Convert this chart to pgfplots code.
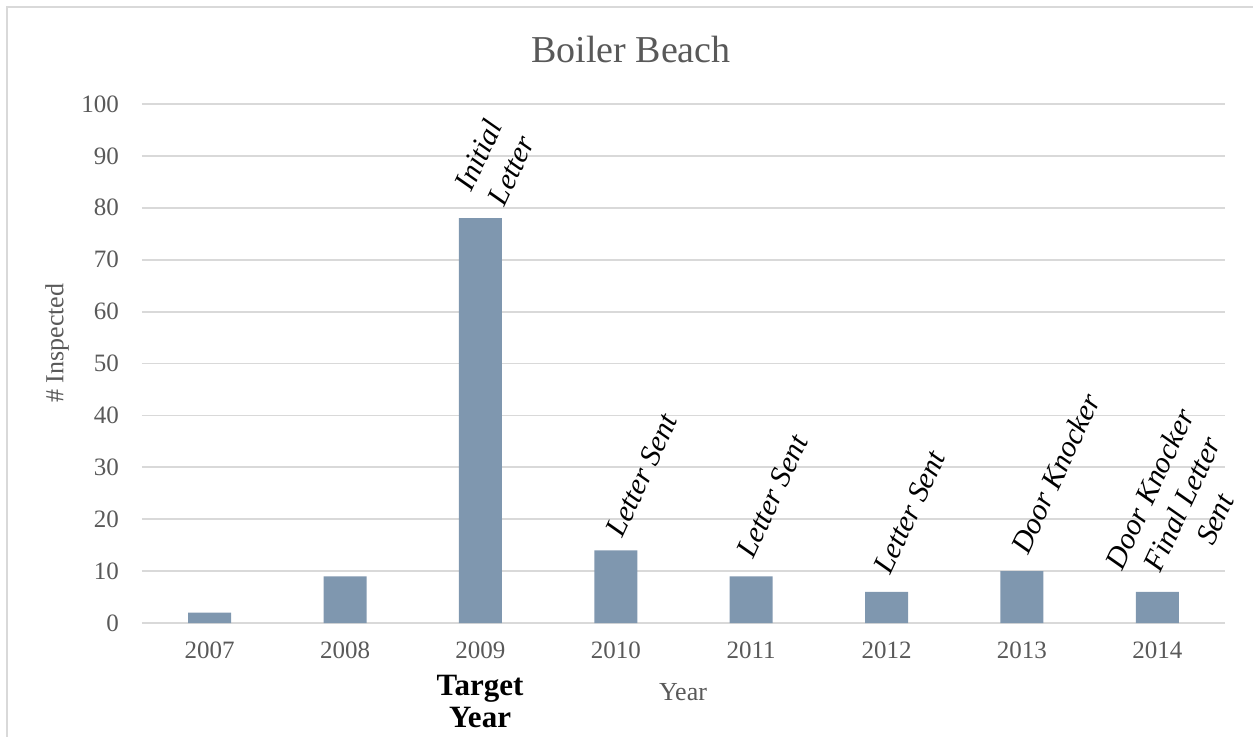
\documentclass[border=0pt]{standalone}
\usepackage{fontspec}
\setmainfont{Liberation Serif}
\usepackage{pgfplots}
\pgfplotsset{compat=1.18}
\definecolor{textgray}{HTML}{595959}
\definecolor{gridgray}{HTML}{D9D9D9}
\definecolor{barblue}{HTML}{7F97AF}
\tikzset{lab/.style={inner sep=0pt, anchor=base west, align=center, text=black,
    font=\itshape\fontsize{15}{18}\selectfont}}
\begin{document}
\begin{tikzpicture}
\path[use as bounding box] (-71pt,-56.5pt) rectangle (555.5pt,311.5pt);
\draw[gridgray, line width=1pt] (-67.5pt,-60pt) -- (-67.5pt,308pt) -- (560pt,308pt);
\begin{axis}[
  scale only axis, width=541.5pt, height=259.5pt,
  ymin=0, ymax=100, ytick={0,10,...,100},
  xmin=-0.5, xmax=7.5, xtick={0,...,7},
  xticklabels={2007,2008,2009,2010,2011,2012,2013,2014},
  ybar, bar width=21.5pt,
  axis line style={draw=none},
  major tick length=0pt,
  ymajorgrids, grid style={color=gridgray, line width=0.9pt},
  tick label style={font=\fontsize{12.5}{15}\selectfont, text=textgray},
  yticklabel style={xshift=-8pt},
  xticklabel style={yshift=-6pt},
  /pgf/number format/assume math mode=true,
  clip=false,
]
\addplot[fill=barblue, draw=none] coordinates {
  (0,2) (1,9) (2,78) (3,14) (4,9) (5,6) (6,10) (7,6)};
\node[shift={(12pt,5pt)}, rotate=65, lab] at (axis cs:2,78) {Initial\\Letter};
\node[shift={(3.5pt,5.5pt)}, rotate=65, lab] at (axis cs:3,14) {Letter Sent};
\node[shift={(1pt,8pt)}, rotate=65, lab] at (axis cs:4,9) {Letter Sent};
\node[shift={(2pt,8pt)}, rotate=65, lab] at (axis cs:5,6) {Letter Sent};
\node[shift={(3pt,7.5pt)}, rotate=65, lab] at (axis cs:6,10) {Door Knocker};
\node[shift={(15pt,-5pt)}, rotate=65, lab] at (axis cs:7,6) {Door Knocker\\Final Letter\\Sent};
\end{axis}
\node[anchor=base, font=\fontsize{19}{22}\selectfont, text=textgray] at (244.5pt,280.5pt) {Boiler Beach};
\node[rotate=90, font=\fontsize{13}{15}\selectfont, text=textgray] at (-42.5pt,140pt) {\# Inspected};
\node[anchor=base, font=\fontsize{13}{15}\selectfont, text=textgray] at (270.5pt,-38.5pt) {Year};
\node[anchor=base, font=\bfseries\fontsize{15.5}{17}\selectfont] at (169pt,-36pt) {Target};
\node[anchor=base, font=\bfseries\fontsize{15.5}{17}\selectfont] at (169pt,-52pt) {Year};
\end{tikzpicture}
\end{document}
